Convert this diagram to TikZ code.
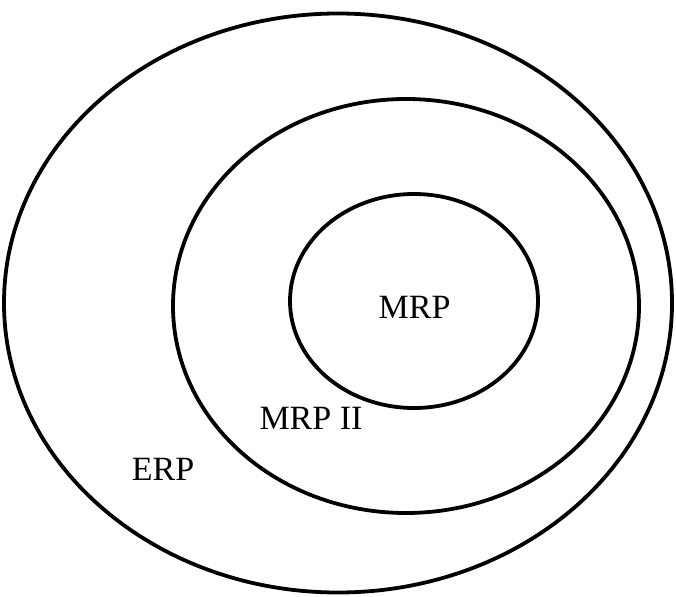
\documentclass[tikz,border=0pt]{standalone}
\usepackage{fontspec}
\setmainfont{Liberation Serif}
\begin{document}
\begin{tikzpicture}[x=1pt,y=-1pt,
  ring/.style={draw=black,line width=3.8pt},
  lab/.style={font=\fontsize{34}{34}\selectfont,inner sep=0pt}]
\useasboundingbox (0,0) rectangle (676,596);
\draw[ring] (338,303) ellipse [x radius=334, y radius=289.5];
\draw[ring] (406,306) ellipse [x radius=233, y radius=207];
\draw[ring] (414,301) ellipse [x radius=124, y radius=107];
\node[lab] (mrp) at (414.5,307) {MRP};
\node[lab] (mrpii) at (311,418) {MRP II};
\node[lab] (erp) at (163,469) {ERP};
\end{tikzpicture}
\end{document}
